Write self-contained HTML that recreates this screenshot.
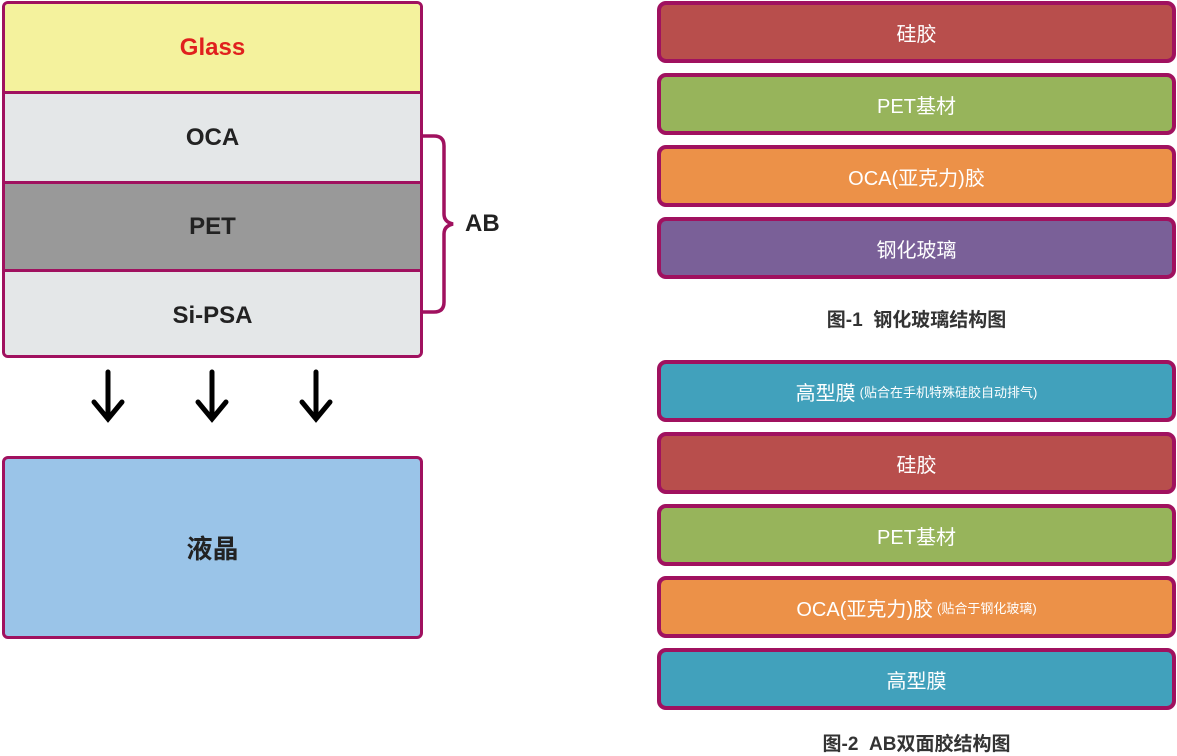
<!DOCTYPE html>
<html><head><meta charset="utf-8"><style>
body{margin:0;width:1177px;height:752px;background:#fff;position:relative;overflow:hidden;font-family:"Liberation Sans","Noto Sans CJK SC",sans-serif}
.a{position:absolute;box-sizing:border-box}
.R{left:657px;width:519px;height:62px;border:4px solid #a0115f;border-radius:9px;display:flex;align-items:center;justify-content:center;color:#fff;font-size:20px}
.cap{left:657px;width:519px;text-align:center;font-weight:bold;font-size:19px;color:#333}
small{font-size:13px;margin-left:4px}
</style></head><body>
<div class="a" style="left:2px;top:1px;width:421px;height:357px;border:3.5px solid #a0115f;border-radius:6px;overflow:hidden">
<div class="a" style="left:0;top:0;width:100%;height:87px;background:#f4f29d;display:flex;align-items:center;justify-content:center;font-weight:bold;font-size:24px;color:#e0201e">Glass</div>
<div class="a" style="left:0;top:87px;width:100%;height:90px;background:#e4e7e8;border-top:3px solid #a0115f;display:flex;align-items:center;justify-content:center;font-weight:bold;font-size:24px;color:#222">OCA</div>
<div class="a" style="left:0;top:177px;width:100%;height:88px;background:#999;border-top:3px solid #a0115f;display:flex;align-items:center;justify-content:center;font-weight:bold;font-size:24px;color:#222">PET</div>
<div class="a" style="left:0;top:265px;width:100%;height:90px;background:#e4e7e8;border-top:3px solid #a0115f;display:flex;align-items:center;justify-content:center;font-weight:bold;font-size:24px;color:#222">Si-PSA</div>
</div>
<svg class="a" style="left:0;top:0" width="600" height="752">
<path d="M422 136 H434 Q444 136 444 146 V214 Q444 222 453 224 Q444 226 444 234 V302 Q444 312 434 312 H422" fill="none" stroke="#a0115f" stroke-width="3.5"/>
<g stroke="#000" stroke-width="5" fill="none" stroke-linecap="round">
<path d="M108 372 V419 M94 402 L108 419 L122 402"/>
<path d="M212 372 V419 M198 402 L212 419 L226 402"/>
<path d="M316 372 V419 M302 402 L316 419 L330 402"/>
</g>
</svg>
<div class="a" style="left:465px;top:210px;font-weight:bold;font-size:24px;color:#222">AB</div>
<div class="a" style="left:2px;top:456px;width:421px;height:183px;border:3.5px solid #a0115f;border-radius:6px;background:#9ac4e8;display:flex;align-items:center;justify-content:center;font-weight:bold;font-size:26px;color:#222">液晶</div>

<div class="a R" style="top:1px;background:#b84e4c">硅胶</div>
<div class="a R" style="top:73px;background:#97b45b">PET基材</div>
<div class="a R" style="top:145px;background:#ec9148">OCA(亚克力)胶</div>
<div class="a R" style="top:217px;background:#7a6098">钢化玻璃</div>
<div class="a cap" style="top:305px">图-1&nbsp; 钢化玻璃结构图</div>

<div class="a R" style="top:360px;background:#41a1bc">高型膜<small>(贴合在手机特殊硅胶自动排气)</small></div>
<div class="a R" style="top:432px;background:#b84e4c">硅胶</div>
<div class="a R" style="top:504px;background:#97b45b">PET基材</div>
<div class="a R" style="top:576px;background:#ec9148">OCA(亚克力)胶<small>(贴合于钢化玻璃)</small></div>
<div class="a R" style="top:648px;background:#41a1bc">高型膜</div>
<div class="a cap" style="top:729px">图-2&nbsp; AB双面胶结构图</div>
</body></html>
